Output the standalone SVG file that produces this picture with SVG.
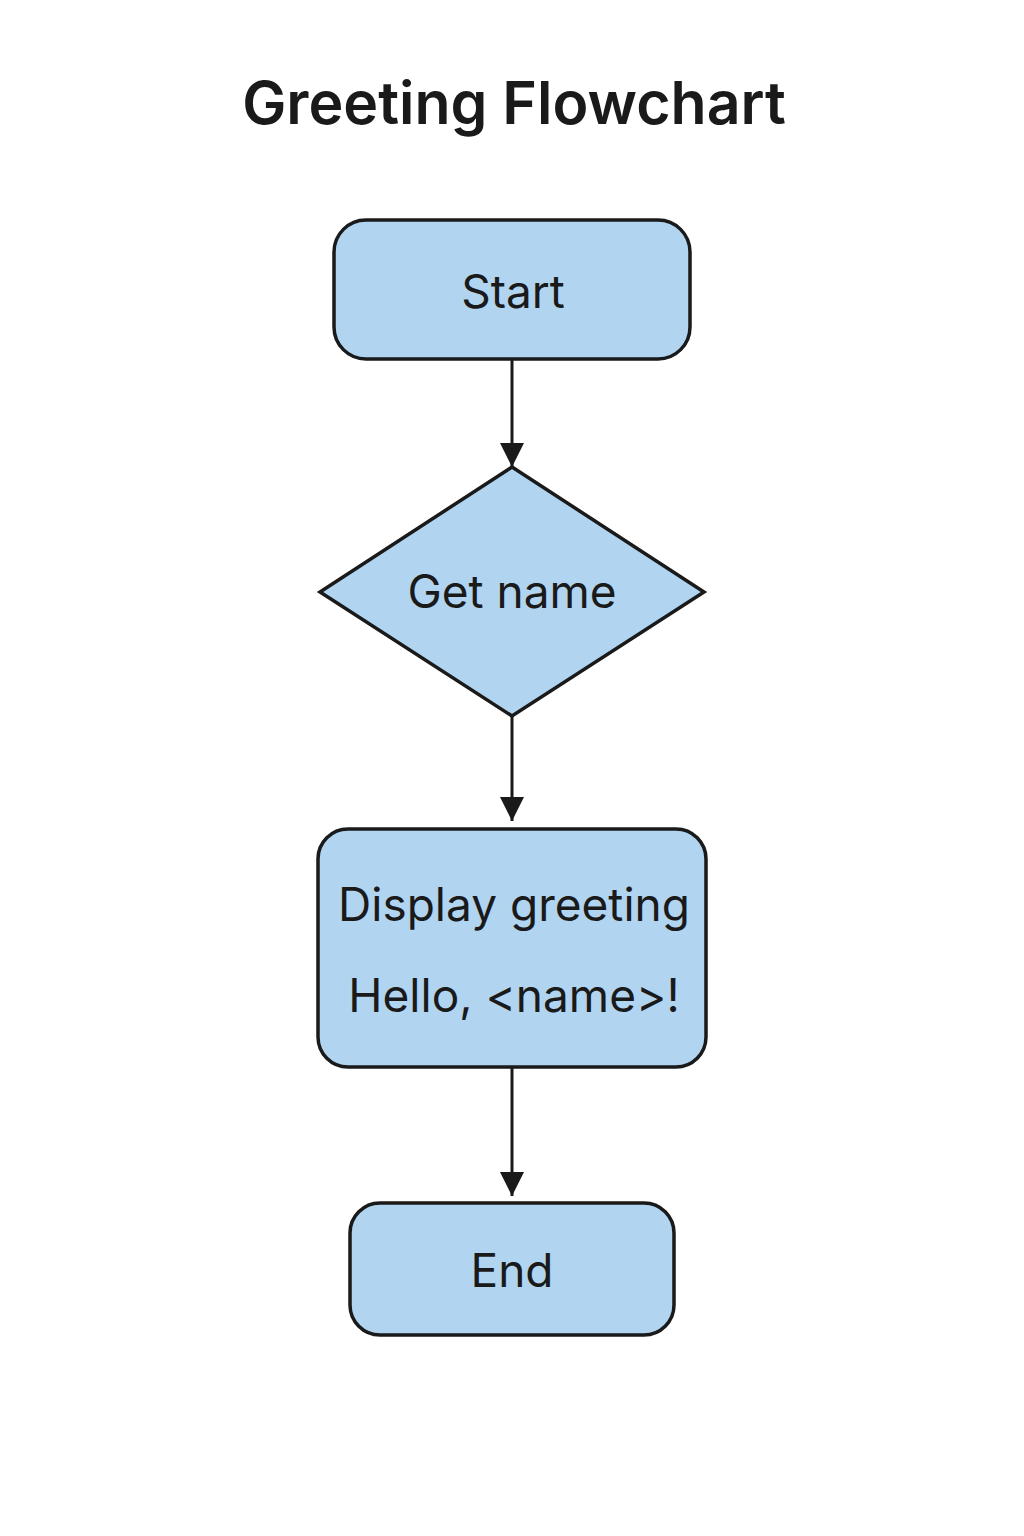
<svg xmlns="http://www.w3.org/2000/svg" width="1024" height="1536" viewBox="0 0 1024 1536">
<style>
.node{fill:#b1d5f1;stroke:#1a1a1a;stroke-width:3.5}
.lbl{font-family:Inter,"Noto Sans","Liberation Sans",sans-serif;font-size:46px;fill:#1a1a1a;text-anchor:middle}
.title{font-family:Inter,"Noto Sans","Liberation Sans",sans-serif;font-size:59px;font-weight:600;fill:#1a1a1a;text-anchor:middle}
.edge{stroke:#1a1a1a;stroke-width:3;fill:none}
</style>
<defs>
<marker id="arr" markerUnits="userSpaceOnUse" markerWidth="26" markerHeight="26" viewBox="0 0 26 26" refX="24" refY="13" orient="auto">
<path d="M0,1 L24,13 L0,25 Z" fill="#1a1a1a"/>
</marker>
</defs>
<rect width="1024" height="1536" fill="#ffffff"/>
<text class="title" x="514" y="124">Greeting Flowchart</text>
<g id="connectors">
<line class="edge" x1="512" y1="359" x2="512" y2="467" marker-end="url(#arr)"/>
<line class="edge" x1="512" y1="716" x2="512" y2="821" marker-end="url(#arr)"/>
<line class="edge" x1="512" y1="1067" x2="512" y2="1196" marker-end="url(#arr)"/>
</g>
<g id="start">
<rect class="node" x="334" y="220" width="356" height="139" rx="32"/>
<text class="lbl" x="513" y="308">Start</text>
</g>
<g id="getname">
<polygon class="node" points="512,467 704,592 512,716 320,592"/>
<text class="lbl" x="512" y="608">Get name</text>
</g>
<g id="display">
<rect class="node" x="318" y="829" width="388" height="238" rx="30"/>
<text class="lbl" x="514" y="921">Display greeting</text>
<text class="lbl" x="514" y="1012">Hello, &lt;name&gt;!</text>
</g>
<g id="end">
<rect class="node" x="350" y="1203" width="324" height="132" rx="30"/>
<text class="lbl" x="512" y="1287">End</text>
</g>
</svg>
